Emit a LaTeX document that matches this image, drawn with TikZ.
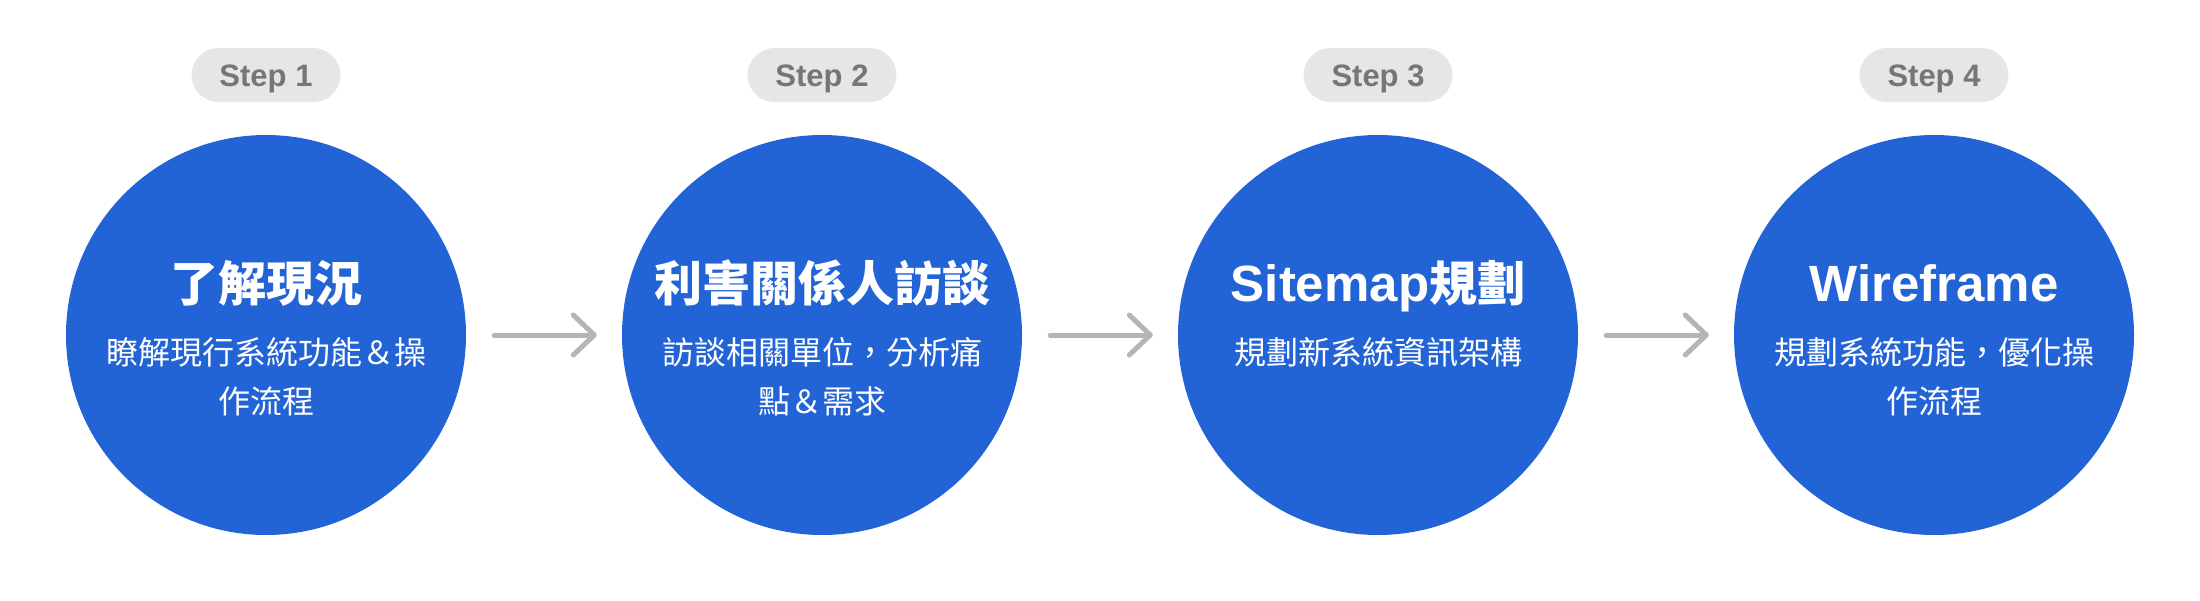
\documentclass[tikz,border=0pt]{standalone}
\usepackage{fontspec}
\usetikzlibrary{arrows.meta}
\newfontfamily\cjk{Noto Sans CJK TC}
\newfontfamily\latb{Liberation Sans}
\definecolor{cblue}{HTML}{2263D6}
\definecolor{pillgray}{HTML}{E6E6E6}
\definecolor{steptext}{HTML}{767676}
\definecolor{arrgray}{HTML}{B5B5B5}
\tikzset{
  stepcircle/.style={circle, fill=cblue, minimum size=400pt, inner sep=0pt},
  pill/.style={rounded corners=27pt, fill=pillgray, minimum width=149pt, minimum height=54pt,
    inner sep=0pt, text=steptext, text height=22pt, text depth=0pt,
    font=\latb\bfseries\fontsize{31}{36}\selectfont},
  ttl/.style={text=white, anchor=base, inner sep=0pt, font=\cjk\bfseries\fontsize{48}{58}\selectfont},
  ltn/.style={font=\latb\bfseries\fontsize{51}{58}\selectfont},
  sub/.style={text=white, anchor=base, inner sep=0pt, font=\cjk\fontsize{32}{40}\selectfont},
  arr/.style={draw=arrgray, line width=5pt, line cap=round, line join=round,
    -{Straight Barb[length=21pt, width=40pt, round]}}
}
\newcommand{\lt}[1]{{\latb\bfseries\fontsize{51}{58}\selectfont #1}}
\begin{document}
\begin{tikzpicture}[x=1pt, y=-1pt]
  \useasboundingbox (0,0) rectangle (2200,600);
  % circles
  \node[stepcircle] (c1) at (266,335) {};
  \node[stepcircle] (c2) at (822,335) {};
  \node[stepcircle] (c3) at (1378,335) {};
  \node[stepcircle] (c4) at (1934,335) {};
  % pills
  \node[pill] (p1) at (266,75) {Step 1};
  \node[pill] (p2) at (822,75) {Step 2};
  \node[pill] (p3) at (1378,75) {Step 3};
  \node[pill] (p4) at (1934,75) {Step 4};
  % titles
  \node[ttl] (t1) at (266,301) {了解現況};
  \node[ttl] (t2) at (822,301) {利害關係人訪談};
  \node[ttl] (t3) at (1378,301) {\lt{Sitemap}規劃};
  \node[ttl] (t4) at (1934,301) {\lt{Wireframe}};
  % subtitles
  \node[sub] (s1a) at (266,364) {瞭解現行系統功能＆操};
  \node[sub] (s1b) at (266,413) {作流程};
  \node[sub] (s2a) at (822,364) {訪談相關單位，分析痛};
  \node[sub] (s2b) at (822,413) {點＆需求};
  \node[sub] (s3a) at (1378,364) {規劃新系統資訊架構};
  \node[sub] (s4a) at (1934,364) {規劃系統功能，優化操};
  \node[sub] (s4b) at (1934,413) {作流程};
  % arrows
  \draw[arr] ([xshift=28pt]c1.east) -- ([xshift=-25pt]c2.west);
  \draw[arr] ([xshift=28pt]c2.east) -- ([xshift=-25pt]c3.west);
  \draw[arr] ([xshift=28pt]c3.east) -- ([xshift=-25pt]c4.west);
\end{tikzpicture}
\end{document}
